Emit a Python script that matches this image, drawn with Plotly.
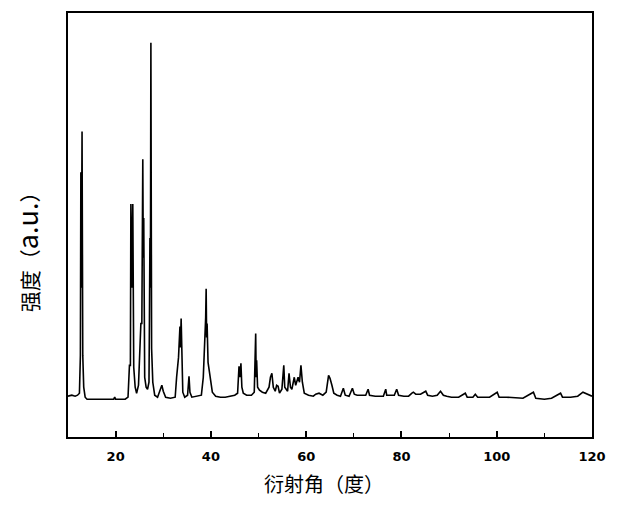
import plotly.graph_objects as go

two_theta = [
    10.0, 10.8, 11.5, 12.0, 12.4, 12.5, 12.6, 12.7, 12.8, 12.95, 13.1, 13.3, 13.6, 14.0,
    16.0, 18.0, 19.6, 19.8, 20.0, 22.0, 22.6, 22.9, 23.1, 23.2, 23.4, 23.6, 23.8, 24.1,
    24.4, 24.8, 25.3, 25.5, 25.7, 25.8, 25.9, 26.1, 26.4, 26.7, 27.0, 27.1, 27.2, 27.3,
    27.4, 27.55, 27.8, 28.2, 28.8, 29.4, 29.7, 30.0, 30.5, 31.5, 32.5, 32.8, 33.0, 33.2,
    33.5, 33.6, 33.75, 33.9, 34.1, 34.5, 35.1, 35.4, 35.6, 36.0, 37.0, 38.0, 38.4, 38.7,
    38.9, 39.0, 39.1, 39.2, 39.4, 39.6, 39.9, 40.3, 41.0, 42.0, 43.0, 44.0, 45.0, 45.6,
    45.9, 46.1, 46.3, 46.5, 46.8, 47.5, 48.5, 49.1, 49.4, 49.5, 49.6, 49.8, 50.2, 50.8,
    51.5, 52.2, 52.5, 52.8, 53.1, 53.5, 53.8, 54.1, 54.4, 54.9, 55.3, 55.5, 55.8, 56.1,
    56.4, 56.7, 57.0, 57.5, 57.8, 58.0, 58.3, 58.6, 58.9, 59.2, 59.6, 60.5, 61.5, 62.0,
    62.7, 63.5, 64.2, 64.7, 65.0, 65.4, 65.8, 66.5, 67.2, 67.8, 68.2, 69.0, 69.7, 70.1,
    70.7, 71.5, 72.5, 73.0, 73.3, 74.5, 75.5, 76.2, 76.7, 76.9, 77.5, 78.5, 79.0, 79.4,
    80.5, 81.5, 82.2, 82.5, 83.0, 84.0, 85.1, 85.5, 86.5, 87.5, 88.2, 88.8, 89.5, 90.5,
    92.0, 93.4, 93.8, 95.0, 95.5, 96.0, 97.5, 98.5, 100.1, 100.5, 102.0, 104.0, 105.5, 107.7,
    108.2, 110.0, 111.5, 113.4, 113.8, 115.5, 117.0, 118.1, 119.0, 120.0,
]

intensity = [
    41, 42, 41, 42, 44, 82, 82, 266, 150, 307, 82, 50, 40, 38,
    38, 38, 38, 40, 38, 38, 40, 72, 72, 234, 150, 234, 70, 50,
    44, 52, 114, 114, 279, 180, 220, 60, 50, 48, 55, 120, 200, 150,
    396, 89, 55, 42, 40, 48, 52, 46, 40, 39, 40, 60, 70, 80,
    111, 90, 119, 70, 45, 40, 42, 61, 45, 40, 41, 42, 60, 95,
    120, 149, 100, 114, 75, 67, 55, 45, 41, 40, 40, 41, 42, 44,
    71, 60, 74, 50, 44, 42, 42, 45, 104, 60, 77, 50, 47, 45,
    44, 50, 60, 64, 50, 46, 52, 51, 44, 48, 72, 50, 48, 46,
    64, 50, 48, 60, 52, 56, 60, 55, 72, 55, 44, 42, 41, 43,
    44, 42, 45, 62, 59, 52, 44, 42, 41, 49, 42, 41, 49, 43,
    42, 42, 42, 48, 42, 41, 41, 41, 48, 42, 42, 42, 48, 42,
    41, 41, 44, 45, 43, 43, 46, 42, 41, 42, 46, 42, 41, 40,
    40, 44, 40, 40, 43, 40, 40, 40, 45, 40, 40, 39, 39, 45,
    39, 38, 39, 44, 40, 40, 41, 45, 43, 41,
]

x_ticks = [20, 40, 60, 80, 100, 120]
x_title = "衍射角（度）"
y_title = "强度（<span style='font-size:27px'>a.u.</span>）"

fig = go.Figure()
fig.add_trace(go.Scatter(
    x=two_theta, y=intensity, mode="lines",
    line=dict(color="black", width=1.6),
    showlegend=False,
))

fig.update_layout(
    width=611, height=495,
    margin=dict(l=60, r=27, t=3, b=66),
    paper_bgcolor="white", plot_bgcolor="white",
    xaxis=dict(
        range=[10, 120], tickvals=x_ticks, ticktext=[str(v) for v in x_ticks],
        ticks="inside", ticklen=6, tickwidth=1.5, tickcolor="black",
        minor=dict(ticks="inside", ticklen=4, tickwidth=1, tickcolor="black", dtick=10, tick0=0),
        showline=True, linecolor="black", linewidth=2, mirror=True,
        showgrid=False, zeroline=False, ticklabelstandoff=6,
        tickfont=dict(family="DejaVu Sans", size=13, color="black", weight="bold"),
    ),
    yaxis=dict(
        range=[0, 426], showticklabels=False, ticks="",
        showline=True, linecolor="black", linewidth=2, mirror=True,
        showgrid=False, zeroline=False,
    ),
    annotations=[
        dict(text=x_title, xref="paper", yref="paper", x=0.4885, y=-0.110,
             xanchor="center", yanchor="middle", showarrow=False,
             font=dict(family="Noto Sans CJK SC", size=20, color="black")),
        dict(text=y_title, xref="paper", yref="paper", x=-0.08, y=0.448,
             xanchor="center", yanchor="middle", showarrow=False, textangle=-90,
             font=dict(family="Noto Sans CJK SC", size=21, color="black")),
    ],
)

fig.write_html("out.html")
